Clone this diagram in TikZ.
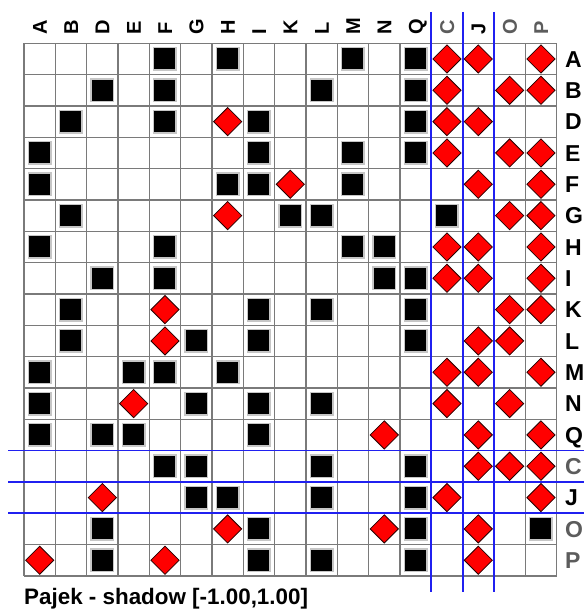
\documentclass[tikz,border=0pt]{standalone}
\usepackage{fontspec}
\setmainfont{Liberation Sans}
\usetikzlibrary{shapes.geometric}
\definecolor{labgray}{HTML}{5C5C5C}
\definecolor{gridgray}{HTML}{7A7A7A}
\definecolor{sepblue}{HTML}{2020F0}
\definecolor{dred}{HTML}{FF0000}
\begin{document}
\begin{tikzpicture}[x=1pt,y=-1pt,
  gridl/.style={draw=gridgray,line width=1.3pt},
  sepl/.style={draw=sepblue,line width=1.8pt},
  blk/.style={rectangle,minimum size=22.5pt,inner sep=0pt,fill=black,draw=gray!45,line width=1.5pt},
  dia/.style={diamond,aspect=1,minimum width=28.5pt,minimum height=28.5pt,inner sep=0pt,fill=dred,draw=black!85!red,line width=0.8pt},
  toplab/.style={font=\fontsize{20}{24}\selectfont\bfseries,inner sep=0pt,text height=14.3pt,text depth=0pt,rotate=90,anchor=west},
  rowlab/.style={font=\fontsize{23}{27}\selectfont\bfseries,inner sep=0pt,text height=16.5pt,text depth=0pt,anchor=west},
  titlelab/.style={font=\fontsize{22.4}{26}\selectfont\bfseries,inner sep=0pt,anchor=base west}]
\def\S{31.33}
\def\X{24}
\def\Y{43.3}
\useasboundingbox (0,0) rectangle (584,612);
% grid
\foreach \i in {0,...,17}{
  \draw[gridl] ({\X+\S*\i},\Y) -- ({\X+\S*\i},{\Y+17*\S});
  \draw[gridl] (\X,{\Y+\S*\i}) -- ({\X+17*\S},{\Y+\S*\i});
}
% separators
\foreach \i in {13,14,15}{
  \draw[sepl] ({\X+\S*\i},12) -- ({\X+\S*\i},592);
  \draw[sepl] (8,{\Y+\S*\i}) -- (584,{\Y+\S*\i});
}
% cells
\foreach \r/\xs/\ds in {
0/{4,6,10,12}/{13,14,16},
1/{2,4,9,12}/{13,15,16},
2/{1,4,7,12}/{6,13,14},
3/{0,7,10,12}/{13,15,16},
4/{0,6,7,10}/{8,14,16},
5/{1,8,9,13}/{6,15,16},
6/{0,4,10,11}/{13,14,16},
7/{2,4,11,12}/{13,14,16},
8/{1,7,9,12}/{4,15,16},
9/{1,5,7,12}/{4,14,15},
10/{0,3,4,6}/{13,14,16},
11/{0,5,7,9}/{3,13,15},
12/{0,2,3,7}/{11,14,16},
13/{4,5,9,12}/{14,15,16},
14/{5,6,9,12}/{2,13,16},
15/{2,7,12,16}/{6,11,14},
16/{2,7,9,12}/{0,4,14}}{
  \foreach \c in \xs {
    \node[blk] (x-\r-\c) at ({\X+\S*(\c+0.5)},{\Y+\S*(\r+0.5)}) {};
  }
  \foreach \c in \ds {
    \node[dia] (d-\r-\c) at ({\X+\S*(\c+0.5)},{\Y+\S*(\r+0.5)}) {};
  }
}
% labels
\foreach \n/\col [count=\i from 0] in {A/black,B/black,D/black,E/black,F/black,G/black,H/black,I/black,K/black,L/black,M/black,N/black,Q/black,C/labgray,J/black,O/labgray,P/labgray}{
  \node[toplab,text=\col] (t-\n) at ({\X+\S*(\i+0.5)},35) {\n};
  \node[rowlab,text=\col] (r-\n) at (565,{\Y+\S*(\i+0.5)}) {\n};
}
\node[titlelab] (title) at (24,604) {Pajek - shadow [-1.00,1.00]};
\end{tikzpicture}
\end{document}
